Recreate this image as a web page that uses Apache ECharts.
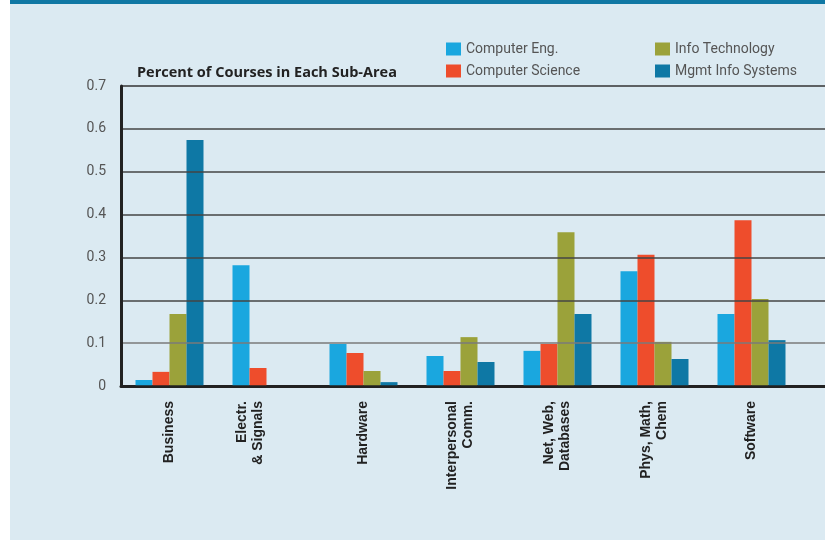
<!DOCTYPE html>
<html>
<head>
<meta charset="utf-8">
<script src="https://cdn.jsdelivr.net/npm/echarts@6/dist/echarts.min.js"></script>
<style>
    html, body { margin: 0; padding: 0; background: #fff; }
    #panel { position: absolute; left: 10px; top: 0; width: 815px; height: 540px; background: #dbeaf2; }
    #band { position: absolute; left: 10px; top: 0; width: 815px; height: 4px; background: #0f78a4; }
    #chart { position: absolute; left: 0; top: 0; width: 825px; height: 540px; }
</style>
</head>
<body>
<div id="panel"></div>
<div id="band"></div>
<div id="chart"></div>
<script>
'use strict';

// sub-areas
var categories = ['Business', 'Electr.\n& Signals', 'Hardware', 'Interpersonal\nComm.',
    'Net, Web,\nDatabases', 'Phys, Math,\nChem', 'Software'];

var computerEng = [0.014, 0.282, 0.098, 0.070, 0.082, 0.268, 0.168];
var computerSci = [0.033, 0.042, 0.077, 0.035, 0.098, 0.306, 0.387];
var infoTech = [0.168, 0, 0.035, 0.114, 0.359, 0.103, 0.203];
var mgmtInfo = [0.574, 0, 0.009, 0.056, 0.168, 0.063, 0.107];

var myChart = echarts.init(document.getElementById('chart'));

// 多一个空类目，让坐标轴和网格线延伸到右边缘
var xData = categories.concat(['']);

function bar(name, data, color) {
    return {
        name: name,
        type: 'bar',
        data: data,
        barWidth: 17,
        barGap: 0,
        itemStyle: {color: color}
    };
}

var legendText = {
    fontFamily: 'Roboto',
    fontSize: 14,
    color: '#555'
};

var option = {
    animation: false,
    title: {
        text: 'Percent of Courses in Each Sub-Area',
        left: 132,
        top: 60,
        textStyle: {
            fontFamily: 'Open Sans',
            fontWeight: 'bold',
            fontSize: 14.5,
            color: '#222'
        }
    },
    legend: [
        {
            data: ['Computer Eng.', 'Computer Science'],
            orient: 'vertical',
            left: 441,
            top: 37,
            itemWidth: 15,
            itemHeight: 13,
            itemGap: 8,
            icon: 'rect',
            textStyle: legendText
        },
        {
            data: ['Info Technology', 'Mgmt Info Systems'],
            orient: 'vertical',
            left: 650,
            top: 37,
            itemWidth: 15,
            itemHeight: 13,
            itemGap: 8,
            icon: 'rect',
            textStyle: legendText
        }
    ],
    grid: {
        left: 121,
        top: 86,
        bottom: 154,
        width: 776,
        outerBoundsMode: 'none',
        containLabel: false
    },
    xAxis: {
        type: 'category',
        data: xData,
        axisLine: {lineStyle: {color: '#222', width: 3}},
        axisTick: {show: false},
        axisLabel: {
            rotate: 90,
            interval: 0,
            margin: 15,
            fontFamily: 'Liberation Sans',
            fontWeight: 'bold',
            fontSize: 14,
            lineHeight: 16,
            color: '#222',
            formatter: function (v) {
                // Electr. 只有两根柱子，标签靠左
                return v.indexOf('Electr.') === 0 ? v + '\n\n' : v;
            }
        }
    },
    yAxis: {
        type: 'value',
        min: 0,
        max: 0.7,
        interval: 0.1,
        z: 5,
        axisLine: {show: true, lineStyle: {color: '#222', width: 3}},
        axisTick: {show: false},
        axisLabel: {
            margin: 15,
            fontFamily: 'Roboto',
            fontSize: 14,
            color: '#555'
        },
        splitLine: {
            lineStyle: {
                color: ['#222', '#7a7a7a', '#444', '#444', '#444', '#444', '#444', '#333'],
                width: 1.5
            }
        }
    },
    series: [
        bar('Computer Eng.', computerEng, '#1aa7df'),
        bar('Computer Science', computerSci, '#ee4d2c'),
        bar('Info Technology', infoTech, '#9ba23a'),
        bar('Mgmt Info Systems', mgmtInfo, '#0e78a5')
    ]
};

myChart.setOption(option);
</script>
</body>
</html>
